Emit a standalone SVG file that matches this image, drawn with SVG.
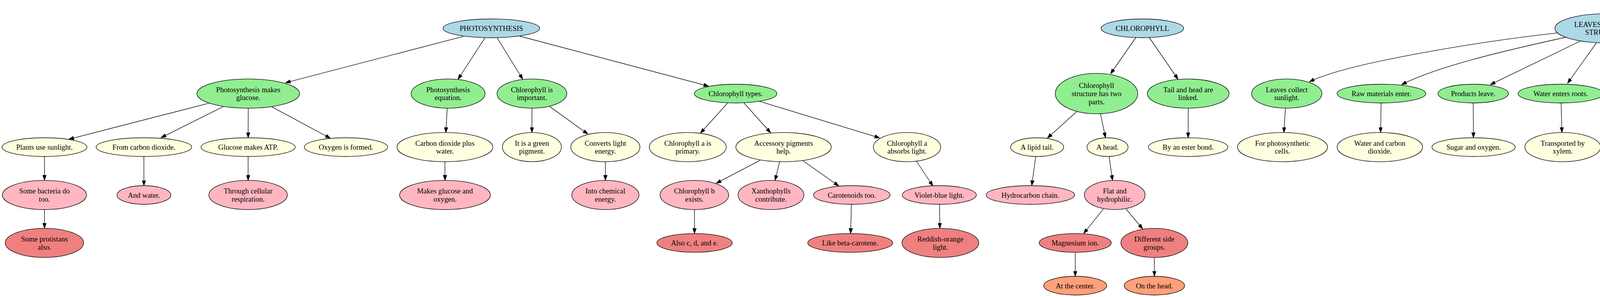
<svg xmlns="http://www.w3.org/2000/svg" width="6111" height="760" viewBox="0 0 6111 760">
<style>
.n ellipse{stroke:#000;stroke-width:1.33}
.b{fill:#ADD8E6}.g{fill:#90EE90}.y{fill:#FFFFE0}.p{fill:#FFB6C1}.c{fill:#F08080}.s{fill:#FFA07A}
text{font-family:"Liberation Serif","Times New Roman",serif;font-size:18.67px;text-anchor:middle;fill:#000}
#edges path{fill:none;stroke:#000;stroke-width:1.33;marker-end:url(#arr)}
</style>
<defs>
<marker id="arr" viewBox="0 0 13.3 9.4" refX="13.3" refY="4.7" markerWidth="13.3" markerHeight="9.4" markerUnits="userSpaceOnUse" orient="auto"><path d="M0,0 L13.3,4.7 L0,9.4 z" fill="#000" stroke="#000" stroke-width="1"/></marker>
</defs>
<rect width="6111" height="760" fill="#fff"/>
<g id="edges">
<path d="M1186.2,93.1 L730.6,211.8"/>
<path d="M1241.8,96.3 L1172.4,203"/>
<path d="M1272.4,96.3 L1338.3,203"/>
<path d="M1330.6,92.5 L1814.3,220.6"/>
<path d="M534.7,264.2 L176,356.3"/>
<path d="M571.4,272.9 L412.2,352.4"/>
<path d="M635.5,276.8 L635.3,352.5"/>
<path d="M694.9,272.9 L846,354"/>
<path d="M113.8,400.5 L113.8,461.7"/>
<path d="M113.8,536.3 L113.8,584.3"/>
<path d="M368.4,400.5 L368.4,475"/>
<path d="M635.2,400.5 L635.2,461.7"/>
<path d="M1144.9,276.8 L1141.3,339.2"/>
<path d="M1139,413.8 L1139.2,461.7"/>
<path d="M1361.7,276.8 L1361.7,339.2"/>
<path d="M1407.1,272.4 L1505.1,343.2"/>
<path d="M1549.8,413.8 L1549.8,461.7"/>
<path d="M1862.8,263.5 L1792.9,341"/>
<path d="M1904.6,263.5 L1973,340"/>
<path d="M1944.4,259.3 L2252,352.9"/>
<path d="M1945.9,410.1 L1833.2,469.2"/>
<path d="M1995.9,413.5 L1984.2,461.7"/>
<path d="M2055.1,411 L2147.4,476"/>
<path d="M2346.4,413 L2388.3,476"/>
<path d="M1777.8,536.3 L1778,597.6"/>
<path d="M2179.6,523 L2177.6,597.6"/>
<path d="M2405.1,523 L2406.1,584.3"/>
<path d="M2908.2,95.5 L2842.9,189"/>
<path d="M2941.8,95.5 L3015.8,203"/>
<path d="M2757.1,285 L2681.1,353.5"/>
<path d="M2817.3,290.8 L2830.1,352.5"/>
<path d="M3041.8,276.8 L3041.7,352.5"/>
<path d="M2651.5,400.5 L2641.3,475"/>
<path d="M2839.3,400.5 L2848,461.7"/>
<path d="M2825,534.7 L2774,597.6"/>
<path d="M2882.7,534.7 L2925.5,586"/>
<path d="M2752.6,645.6 L2752.6,707"/>
<path d="M2955.1,658.9 L2955.2,707"/>
<path d="M3985.7,84.3 C3800,105 3450,160 3352,209.4"/>
<path d="M4010,95 C3850,130 3680,170 3587.8,216.7"/>
<path d="M4046,105 L3815,216.7"/>
<path d="M4086.7,110 L4012.8,213.3"/>
<path d="M4137.8,109.1 L4205.6,202.1"/>
<path d="M4177.6,105.2 L4393.4,208.4"/>
<path d="M4223,93.6 C4420,145 4570,190 4622.4,216.7"/>
<path d="M4239,84 C4500,108 4720,165 4809.2,215.7"/>
<path d="M3290.8,276.8 L3286.7,339.2"/>
<path d="M3535.7,263.5 L3534.2,339.2"/>
<path d="M3771.4,263.5 L3772,352.5"/>
<path d="M3996.4,263.5 L3998.5,339.2"/>
<path d="M4231.4,276.8 L4231.2,352.5"/>
<path d="M4502.6,272.4 L4622.4,352.4"/>
<path d="M4656.5,263.5 L4656.6,352.5"/>
<path d="M4800,258 L4688.8,352.4"/>
<path d="M4656.6,400.5 L4656.6,461.7"/>
<path d="M5381.6,116.3 L5126.5,208.4"/>
<path d="M5434.2,132.3 L5338.3,204.6"/>
<path d="M5512.5,139.6 L5512.5,202.2"/>
<path d="M5594.2,131.8 L5695.2,203.6"/>
<path d="M5648.8,114.4 L5920.7,208.4"/>
<path d="M5057.9,276.8 L5057.9,352.5"/>
<path d="M5293.7,276.8 L5293.9,352.5"/>
<path d="M5512.5,276.8 L5512.5,352.5"/>
<path d="M5987.3,276.8 L5987.3,352.5"/>
<path d="M5057.9,400.5 L5057.9,475"/>
<path d="M5987.3,400.5 L5987.3,475"/>
</g>

<g id="n_photo" class="n"><ellipse class="b" cx="1257.9" cy="72.5" rx="123.7" ry="24"/><text x="1257.9" y="79">PHOTOSYNTHESIS</text></g>
<g id="n_pmg" class="n"><ellipse class="g" cx="635.5" cy="239.5" rx="131.4" ry="37.3"/><text><tspan x="635.5" y="235.6">Photosynthesis makes</tspan><tspan x="635.5" y="256.4">glucose.</tspan></text></g>
<g id="n_peq" class="n"><ellipse class="g" cx="1147.2" cy="239.5" rx="94.6" ry="37.3"/><text><tspan x="1147.2" y="235.6">Photosynthesis</tspan><tspan x="1147.2" y="256.4">equation.</tspan></text></g>
<g id="n_chlimp" class="n"><ellipse class="g" cx="1361.7" cy="239.5" rx="89.3" ry="37.3"/><text><tspan x="1361.7" y="235.6">Chlorophyll is</tspan><tspan x="1361.7" y="256.4">important.</tspan></text></g>
<g id="n_chltypes" class="n"><ellipse class="g" cx="1883.2" cy="239.5" rx="105.6" ry="24"/><text x="1883.2" y="246">Chlorophyll types.</text></g>
<g id="n_plants" class="n"><ellipse class="y" cx="113.8" cy="376.5" rx="108.7" ry="24"/><text x="113.8" y="383">Plants use sunlight.</text></g>
<g id="n_fromco2" class="n"><ellipse class="y" cx="368.4" cy="376.5" rx="122.4" ry="24"/><text x="368.4" y="383">From carbon dioxide.</text></g>
<g id="n_atp" class="n"><ellipse class="y" cx="635.2" cy="376.5" rx="120.7" ry="24"/><text x="635.2" y="383">Glucose makes ATP.</text></g>
<g id="n_oxyform" class="n"><ellipse class="y" cx="885.7" cy="376.5" rx="106.7" ry="24"/><text x="885.7" y="383">Oxygen is formed.</text></g>
<g id="n_co2water" class="n"><ellipse class="y" cx="1139" cy="376.5" rx="122.7" ry="37.3"/><text><tspan x="1139" y="372.6">Carbon dioxide plus</tspan><tspan x="1139" y="393.4">water.</tspan></text></g>
<g id="n_green" class="n"><ellipse class="y" cx="1361.7" cy="376.5" rx="75.5" ry="37.3"/><text><tspan x="1361.7" y="372.6">It is a green</tspan><tspan x="1361.7" y="393.4">pigment.</tspan></text></g>
<g id="n_converts" class="n"><ellipse class="y" cx="1549.8" cy="376.5" rx="88.5" ry="37.3"/><text><tspan x="1549.8" y="372.6">Converts light</tspan><tspan x="1549.8" y="393.4">energy.</tspan></text></g>
<g id="n_chlaprim" class="n"><ellipse class="y" cx="1760.7" cy="376.5" rx="98.5" ry="37.3"/><text><tspan x="1760.7" y="372.6">Chlorophyll a is</tspan><tspan x="1760.7" y="393.4">primary.</tspan></text></g>
<g id="n_access" class="n"><ellipse class="y" cx="2005.9" cy="376.5" rx="122.2" ry="37.3"/><text><tspan x="2005.9" y="372.6">Accessory pigments</tspan><tspan x="2005.9" y="393.4">help.</tspan></text></g>
<g id="n_chlaabs" class="n"><ellipse class="y" cx="2322" cy="376.5" rx="86.2" ry="37.3"/><text><tspan x="2322" y="372.6">Chlorophyll a</tspan><tspan x="2322" y="393.4">absorbs light.</tspan></text></g>
<g id="n_bacteria" class="n"><ellipse class="p" cx="113.8" cy="499" rx="107.7" ry="37.3"/><text><tspan x="113.8" y="495.1">Some bacteria do</tspan><tspan x="113.8" y="515.9">too.</tspan></text></g>
<g id="n_andwater" class="n"><ellipse class="p" cx="368.4" cy="499" rx="68.9" ry="24"/><text x="368.4" y="505.5">And water.</text></g>
<g id="n_cellresp" class="n"><ellipse class="p" cx="635.2" cy="499" rx="100.5" ry="37.3"/><text><tspan x="635.2" y="495.1">Through cellular</tspan><tspan x="635.2" y="515.9">respiration.</tspan></text></g>
<g id="n_makesgluc" class="n"><ellipse class="p" cx="1139.2" cy="499" rx="116.3" ry="37.3"/><text><tspan x="1139.2" y="495.1">Makes glucose and</tspan><tspan x="1139.2" y="515.9">oxygen.</tspan></text></g>
<g id="n_intochem" class="n"><ellipse class="p" cx="1549.8" cy="499" rx="86" ry="37.3"/><text><tspan x="1549.8" y="495.1">Into chemical</tspan><tspan x="1549.8" y="515.9">energy.</tspan></text></g>
<g id="n_chlb" class="n"><ellipse class="p" cx="1777.6" cy="499" rx="87.8" ry="37.3"/><text><tspan x="1777.6" y="495.1">Chlorophyll b</tspan><tspan x="1777.6" y="515.9">exists.</tspan></text></g>
<g id="n_xanth" class="n"><ellipse class="p" cx="1973.7" cy="499" rx="84.4" ry="37.3"/><text><tspan x="1973.7" y="495.1">Xanthophylls</tspan><tspan x="1973.7" y="515.9">contribute.</tspan></text></g>
<g id="n_carot" class="n"><ellipse class="p" cx="2180.6" cy="499" rx="98" ry="24"/><text x="2180.6" y="505.5">Carotenoids too.</text></g>
<g id="n_violet" class="n"><ellipse class="p" cx="2404.6" cy="499" rx="94.9" ry="24"/><text x="2404.6" y="505.5">Violet-blue light.</text></g>
<g id="n_protist" class="n"><ellipse class="c" cx="113.8" cy="621.6" rx="100.3" ry="37.3"/><text><tspan x="113.8" y="617.7">Some protistans</tspan><tspan x="113.8" y="638.5">also.</tspan></text></g>
<g id="n_alsocde" class="n"><ellipse class="c" cx="1778" cy="621.6" rx="96.4" ry="24"/><text x="1778" y="628.1">Also c, d, and e.</text></g>
<g id="n_beta" class="n"><ellipse class="c" cx="2176.5" cy="621.6" rx="108.7" ry="24"/><text x="2176.5" y="628.1">Like beta-carotene.</text></g>
<g id="n_reddish" class="n"><ellipse class="c" cx="2407.4" cy="621.6" rx="98.2" ry="37.3"/><text><tspan x="2407.4" y="617.7">Reddish-orange</tspan><tspan x="2407.4" y="638.5">light.</tspan></text></g>

<g id="n_chl" class="n"><ellipse class="b" cx="2924.5" cy="72.5" rx="105.6" ry="24"/><text x="2924.5" y="79">CHLOROPHYLL</text></g>
<g id="n_struct" class="n"><ellipse class="g" cx="2807.1" cy="239.5" rx="105.6" ry="51.7"/><text><tspan x="2807.1" y="225.2">Chlorophyll</tspan><tspan x="2807.1" y="246">structure has two</tspan><tspan x="2807.1" y="266.8">parts.</tspan></text></g>
<g id="n_tail" class="n"><ellipse class="g" cx="3041.8" cy="239.5" rx="104.6" ry="37.3"/><text><tspan x="3041.8" y="235.6">Tail and head are</tspan><tspan x="3041.8" y="256.4">linked.</tspan></text></g>
<g id="n_lipid" class="n"><ellipse class="y" cx="2655.1" cy="376.5" rx="67.9" ry="24"/><text x="2655.1" y="383">A lipid tail.</text></g>
<g id="n_head" class="n"><ellipse class="y" cx="2835.2" cy="376.5" rx="52.6" ry="24"/><text x="2835.2" y="383">A head.</text></g>
<g id="n_ester" class="n"><ellipse class="y" cx="3041.6" cy="376.5" rx="101.8" ry="24"/><text x="3041.6" y="383">By an ester bond.</text></g>
<g id="n_hydro" class="n"><ellipse class="p" cx="2637.8" cy="499" rx="113.3" ry="24"/><text x="2637.8" y="505.5">Hydrocarbon chain.</text></g>
<g id="n_flat" class="n"><ellipse class="p" cx="2853.8" cy="499" rx="77.8" ry="37.3"/><text><tspan x="2853.8" y="495.1">Flat and</tspan><tspan x="2853.8" y="515.9">hydrophilic.</tspan></text></g>
<g id="n_mg" class="n"><ellipse class="c" cx="2752.6" cy="621.6" rx="92.3" ry="24"/><text x="2752.6" y="628.1">Magnesium ion.</text></g>
<g id="n_diff" class="n"><ellipse class="c" cx="2955.1" cy="621.6" rx="85.7" ry="37.3"/><text><tspan x="2955.1" y="617.7">Different side</tspan><tspan x="2955.1" y="638.5">groups.</tspan></text></g>
<g id="n_center" class="n"><ellipse class="s" cx="2752.6" cy="731" rx="80.6" ry="24"/><text x="2752.6" y="737.5">At the center.</text></g>
<g id="n_onhead" class="n"><ellipse class="s" cx="2955.3" cy="731" rx="77.3" ry="24"/><text x="2955.3" y="737.5">On the head.</text></g>

<g id="n_leaves" class="n"><ellipse class="b" cx="4112.2" cy="72.5" rx="131.6" ry="37.3"/><text><tspan x="4112.2" y="68.6">LEAVES AND LEAF</tspan><tspan x="4112.2" y="89.4">STRUCTURE</tspan></text></g>
<g id="n_collect" class="n"><ellipse class="g" cx="3294.1" cy="239.5" rx="90" ry="37.3"/><text><tspan x="3294.1" y="235.6">Leaves collect</tspan><tspan x="3294.1" y="256.4">sunlight.</tspan></text></g>
<g id="n_raw" class="n"><ellipse class="g" cx="3536.5" cy="239.5" rx="113.5" ry="24"/><text x="3536.5" y="246">Raw materials enter.</text></g>
<g id="n_products" class="n"><ellipse class="g" cx="3771.4" cy="239.5" rx="90.3" ry="24"/><text x="3771.4" y="246">Products leave.</text></g>
<g id="n_waterent" class="n"><ellipse class="g" cx="3995.4" cy="239.5" rx="109.2" ry="24"/><text x="3995.4" y="246">Water enters roots.</text></g>
<g id="n_stomata" class="n"><ellipse class="g" cx="4231.4" cy="239.5" rx="101.8" ry="37.3"/><text><tspan x="4231.4" y="235.6">Stomata regulate</tspan><tspan x="4231.4" y="256.4">gases.</tspan></text></g>
<g id="n_co2ent" class="n"><ellipse class="g" cx="4453.8" cy="239.5" rx="96.7" ry="37.3"/><text><tspan x="4453.8" y="235.6">Carbon dioxide</tspan><tspan x="4453.8" y="256.4">enters.</tspan></text></g>
<g id="n_oxyexit" class="n"><ellipse class="g" cx="4656.4" cy="239.5" rx="81.9" ry="24"/><text x="4656.4" y="246">Oxygen exits.</text></g>
<g id="n_waterlost" class="n"><ellipse class="g" cx="4843.1" cy="239.5" rx="79.8" ry="24"/><text x="4843.1" y="246">Water is lost.</text></g>
<g id="n_forphoto" class="n"><ellipse class="y" cx="3283.2" cy="376.5" rx="115.3" ry="37.3"/><text><tspan x="3283.2" y="372.6">For photosynthetic</tspan><tspan x="3283.2" y="393.4">cells.</tspan></text></g>
<g id="n_watercarb" class="n"><ellipse class="y" cx="3532.4" cy="376.5" rx="109.4" ry="37.3"/><text><tspan x="3532.4" y="372.6">Water and carbon</tspan><tspan x="3532.4" y="393.4">dioxide.</tspan></text></g>
<g id="n_sugar" class="n"><ellipse class="y" cx="3772.4" cy="376.5" rx="106.6" ry="24"/><text x="3772.4" y="383">Sugar and oxygen.</text></g>
<g id="n_transp" class="n"><ellipse class="y" cx="4000.5" cy="376.5" rx="96.9" ry="37.3"/><text><tspan x="4000.5" y="372.6">Transported by</tspan><tspan x="4000.5" y="393.4">xylem.</tspan></text></g>
<g id="n_prevent" class="n"><ellipse class="y" cx="4231.1" cy="376.5" rx="107.7" ry="24"/><text x="4231.1" y="383">Prevent water loss.</text></g>
<g id="n_through" class="n"><ellipse class="y" cx="4656.6" cy="376.5" rx="102" ry="24"/><text x="4656.6" y="383">Through stomata.</text></g>
<g id="n_flanked" class="n"><ellipse class="p" cx="4656.9" cy="499" rx="106.9" ry="37.3"/><text><tspan x="4656.9" y="495.1">Flanked by guard</tspan><tspan x="4656.9" y="515.9">cells.</tspan></text></g>

<g id="n_chloro" class="n"><ellipse class="b" cx="5512.5" cy="72.5" rx="172.4" ry="67.1"/><text><tspan x="5512.5" y="47.8">THE STRUCTURE OF THE</tspan><tspan x="5512.5" y="68.6">CHLOROPLAST AND</tspan><tspan x="5512.5" y="89.4">PHOTOSYNTHETIC</tspan><tspan x="5512.5" y="110.2">MEMBRANES</tspan></text></g>
<g id="n_thyl" class="n"><ellipse class="g" cx="5057.9" cy="239.5" rx="111" ry="37.3"/><text><tspan x="5057.9" y="235.6">Thylakoid is basic</tspan><tspan x="5057.9" y="256.4">unit.</tspan></text></g>
<g id="n_euk" class="n"><ellipse class="g" cx="5293.6" cy="239.5" rx="101.3" ry="37.3"/><text><tspan x="5293.6" y="235.6">Eukaryotes have</tspan><tspan x="5293.6" y="256.4">chloroplasts.</tspan></text></g>
<g id="n_stacked" class="n"><ellipse class="g" cx="5512.5" cy="239.5" rx="92.3" ry="37.3"/><text><tspan x="5512.5" y="235.6">Thylakoids are</tspan><tspan x="5512.5" y="256.4">stacked.</tspan></text></g>
<g id="n_stroma" class="n"><ellipse class="g" cx="5741.6" cy="239.5" rx="111.7" ry="37.3"/><text><tspan x="5741.6" y="235.6">Stroma is between</tspan><tspan x="5741.6" y="256.4">grana.</tspan></text></g>
<g id="n_chlmem" class="n"><ellipse class="g" cx="5987.3" cy="239.5" rx="110" ry="37.3"/><text><tspan x="5987.3" y="235.6">Chloroplasts have</tspan><tspan x="5987.3" y="256.4">membranes.</tspan></text></g>
<g id="n_flattened" class="n"><ellipse class="y" cx="5057.9" cy="376.5" rx="88" ry="24"/><text x="5057.9" y="383">Flattened sacs.</text></g>
<g id="n_withmem" class="n"><ellipse class="y" cx="5293.9" cy="376.5" rx="104.6" ry="24"/><text x="5293.9" y="383">With a membrane.</text></g>
<g id="n_grana" class="n"><ellipse class="y" cx="5512.5" cy="376.5" rx="78.8" ry="24"/><text x="5512.5" y="383">Called grana.</text></g>
<g id="n_three" class="n"><ellipse class="y" cx="5987.3" cy="376.5" rx="105.9" ry="24"/><text x="5987.3" y="383">Three membranes.</text></g>
<g id="n_withchem" class="n"><ellipse class="p" cx="5057.9" cy="499" rx="93.6" ry="24"/><text x="5057.9" y="505.5">With chemicals.</text></g>
<g id="n_compart" class="n"><ellipse class="p" cx="5987.3" cy="499" rx="118.1" ry="24"/><text x="5987.3" y="505.5">Make compartments.</text></g>
</svg>
